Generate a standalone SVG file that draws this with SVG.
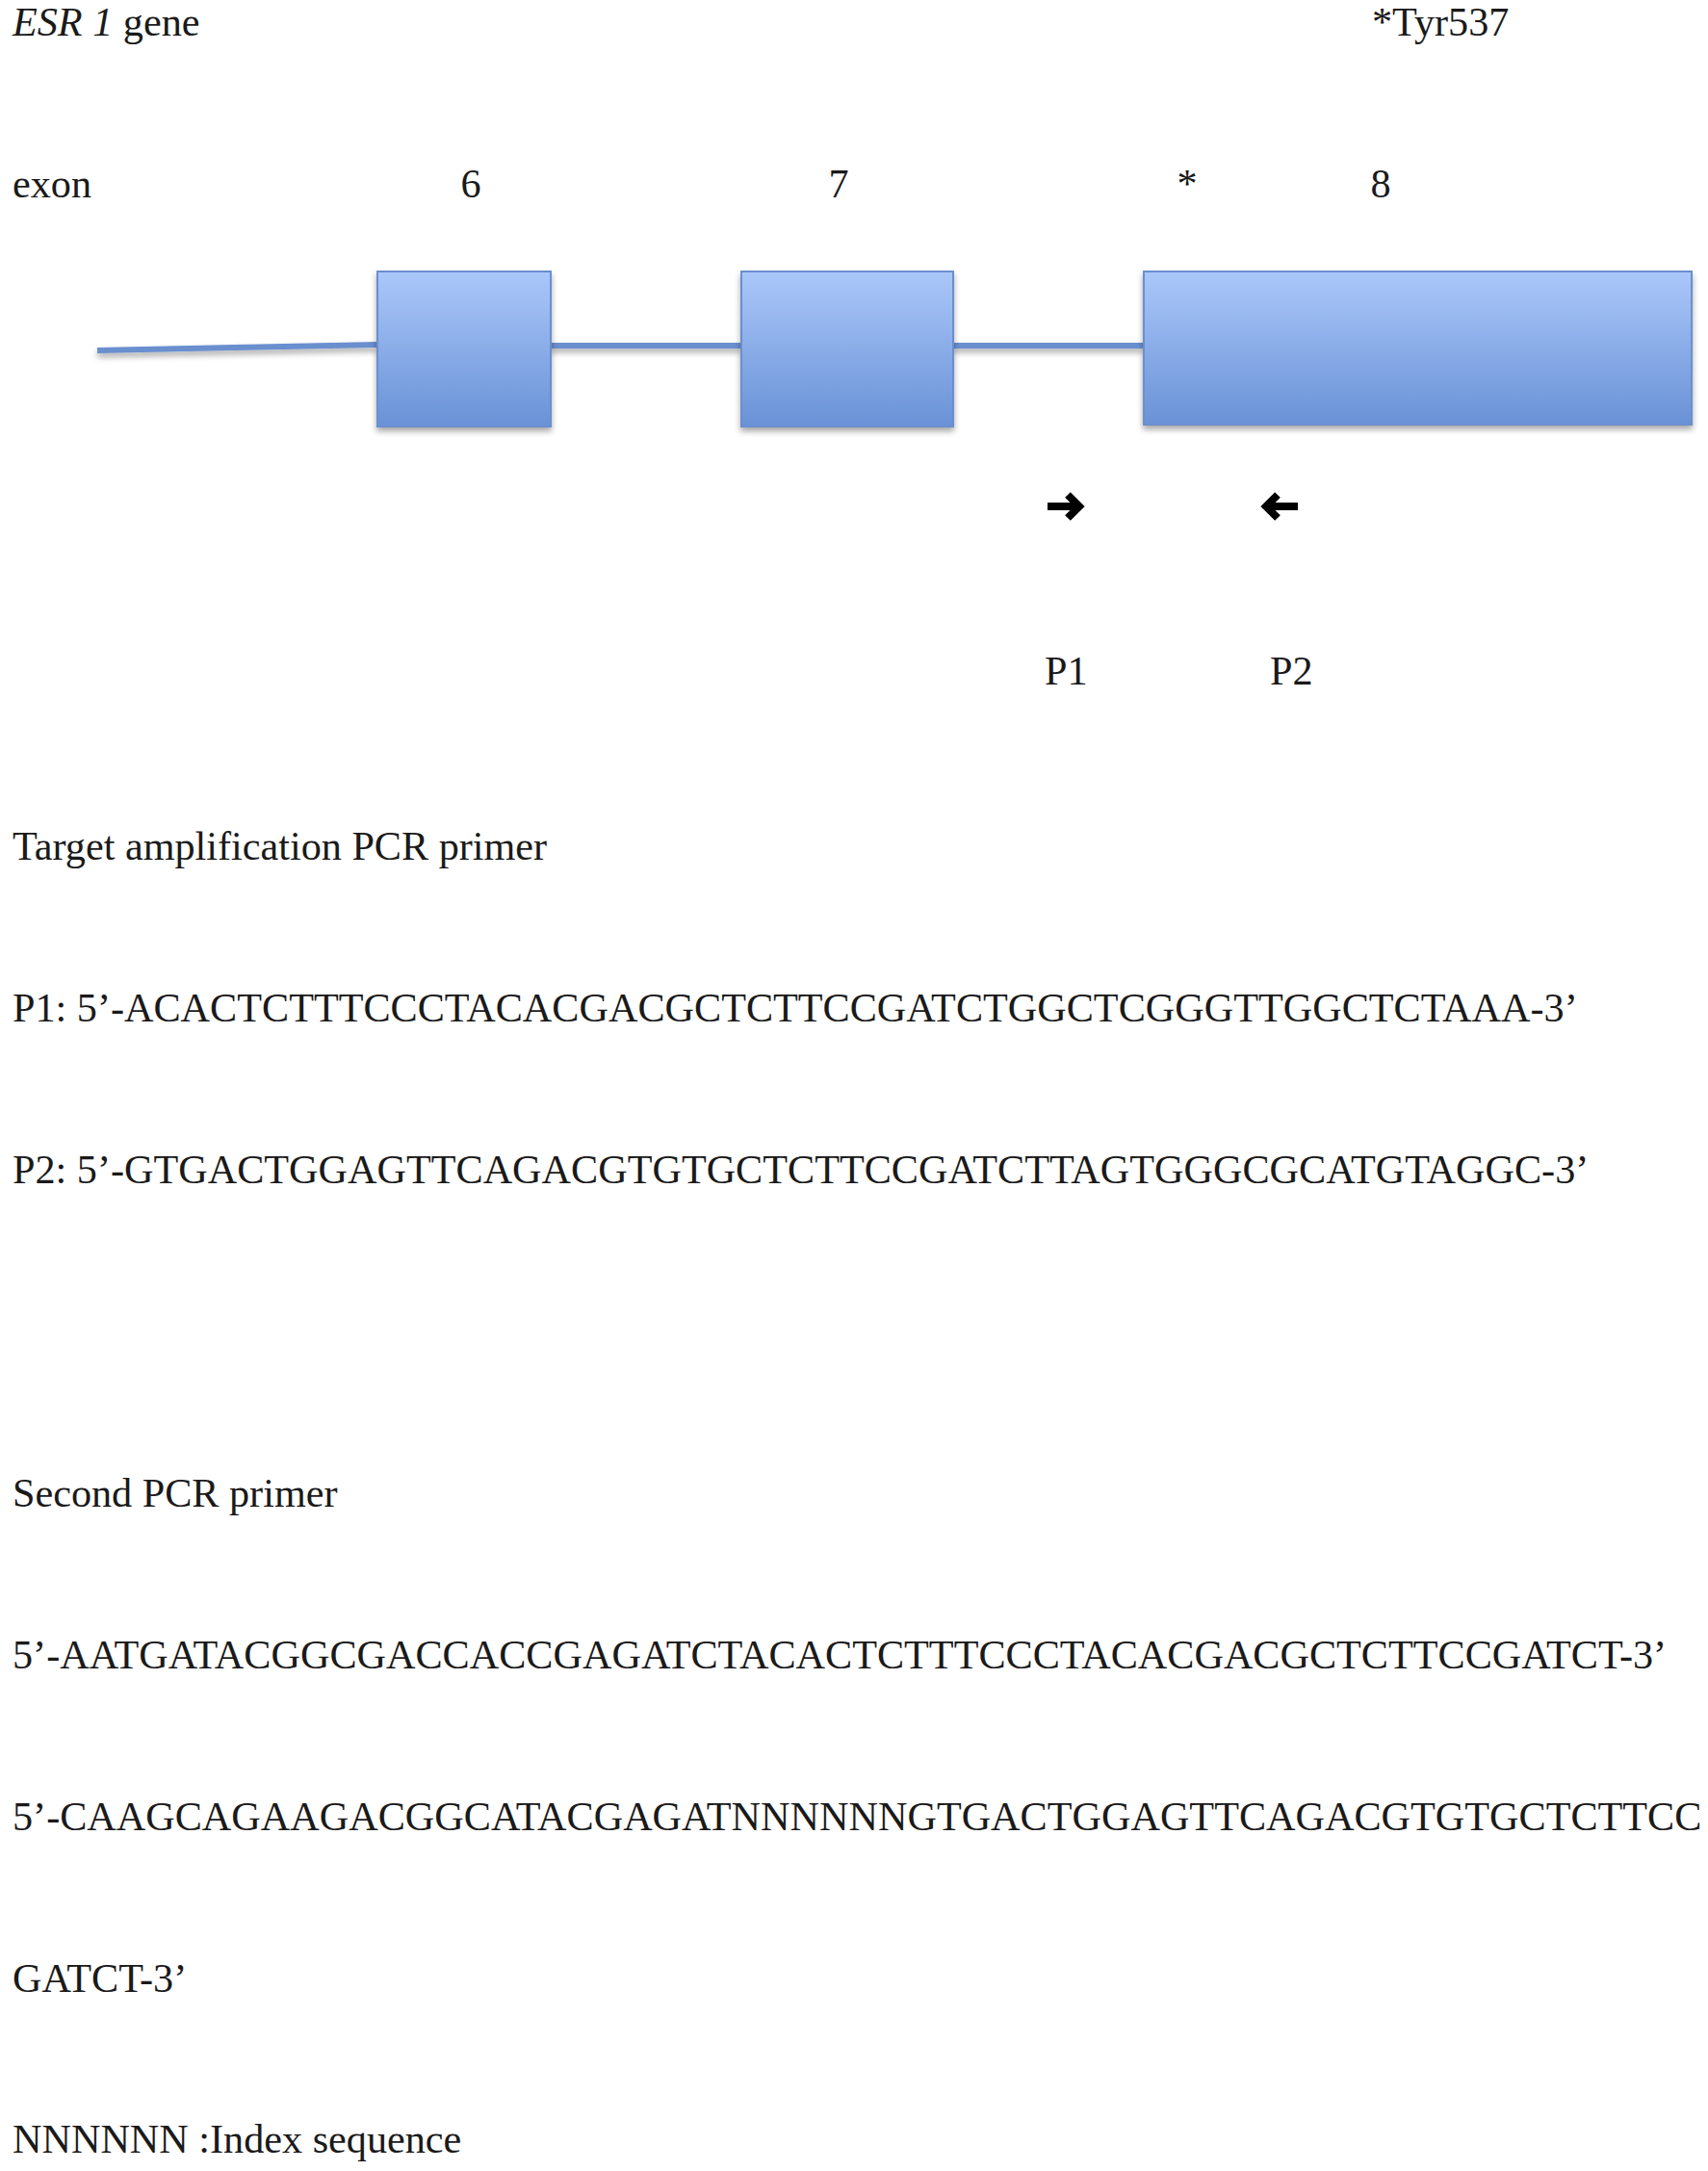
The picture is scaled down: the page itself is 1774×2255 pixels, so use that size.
<svg xmlns="http://www.w3.org/2000/svg" width="1774" height="2255" viewBox="0 0 1774 2255">
<defs>
<linearGradient id="exonGrad" x1="0" y1="0" x2="0" y2="1">
<stop offset="0" stop-color="#abc7fa"/>
<stop offset="1" stop-color="#6992d6"/>
</linearGradient>
<filter id="shadow" filterUnits="userSpaceOnUse" x="0" y="200" width="1774" height="320">
<feDropShadow dx="0" dy="4" stdDeviation="3" flood-color="#000" flood-opacity="0.35"/>
</filter>
<style>
text{font-family:"Liberation Serif","Times New Roman",serif;font-size:42.2px;fill:#1a1a1a}
.exon{fill:url(#exonGrad);stroke:#6a8fcf;stroke-width:2;filter:url(#shadow)}
.intron{stroke:#6a8fcf;stroke-width:6;fill:none;filter:url(#shadow)}
.arrow{stroke:#000;fill:none;stroke-width:8}
</style>
</defs>
<rect width="1774" height="2255" fill="#fff"/>
<g id="title">
<text x="13" y="37"><tspan font-style="italic">ESR 1</tspan> gene</text>
<text x="1425" y="37">*Tyr537</text>
</g>
<g id="exon-labels">
<text x="13" y="205">exon</text>
<text x="489" y="205" text-anchor="middle">6</text>
<text x="871" y="205" text-anchor="middle">7</text>
<text x="1233" y="205" text-anchor="middle">*</text>
<text x="1434" y="205" text-anchor="middle">8</text>
</g>
<g id="connectors">
<path class="intron" d="M101,364 L392,358"/>
<path class="intron" d="M571,359 L770,359"/>
<path class="intron" d="M989,359 L1188,359"/>
</g>
<g id="exon6"><rect class="exon" x="392" y="282" width="180" height="161"/></g>
<g id="exon7"><rect class="exon" x="770" y="282" width="220" height="161"/></g>
<g id="exon8"><rect class="exon" x="1188" y="282" width="569" height="159"/></g>
<g id="primer-P1">
<path class="arrow" d="M1088,526 H1118"/>
<path class="arrow" d="M1109,514 L1121,526 L1109,538" stroke-width="9"/>
<text x="1085" y="711">P1</text>
</g>
<g id="primer-P2">
<path class="arrow" d="M1348,526 H1318"/>
<path class="arrow" d="M1327,514 L1315,526 L1327,538" stroke-width="9"/>
<text x="1319" y="711">P2</text>
</g>
<g id="sequences">
<text x="13" y="893">Target amplification PCR primer</text>
<text x="13" y="1061">P1: 5’-ACACTCTTTCCCTACACGACGCTCTTCCGATCTGGCTCGGGTTGGCTCTAAA-3’</text>
<text x="13" y="1229">P2: 5’-GTGACTGGAGTTCAGACGTGTGCTCTTCCGATCTTAGTGGGCGCATGTAGGC-3’</text>
<text x="13" y="1565">Second PCR primer</text>
<text x="13" y="1733">5’-AATGATACGGCGACCACCGAGATCTACACTCTTTCCCTACACGACGCTCTTCCGATCT-3’</text>
<text x="13" y="1901">5’-CAAGCAGAAGACGGCATACGAGATNNNNNNGTGACTGGAGTTCAGACGTGTGCTCTTCC</text>
<text x="13" y="2069">GATCT-3’</text>
<text x="13" y="2236">NNNNNN :Index sequence</text>
</g>
</svg>
